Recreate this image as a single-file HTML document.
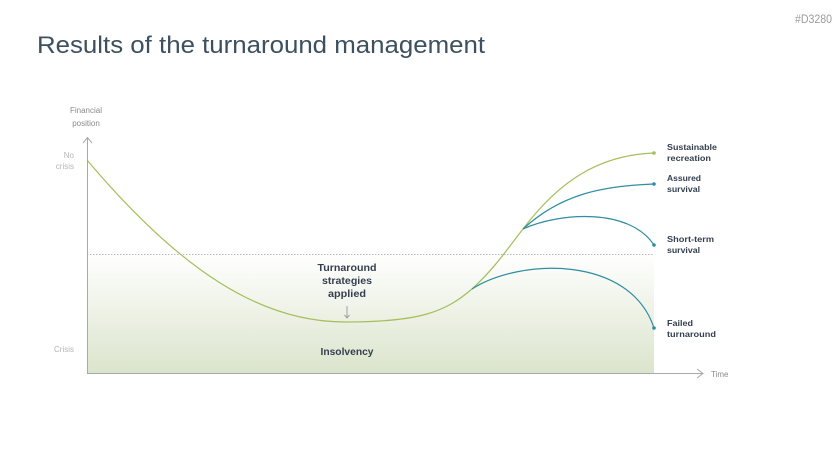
<!DOCTYPE html>
<html><head><meta charset="utf-8"><style>
html,body{margin:0;padding:0;background:#fff;}
svg{display:block;font-family:"Liberation Sans",sans-serif;}
</style></head><body>
<svg width="836" height="470" viewBox="0 0 836 470" xmlns="http://www.w3.org/2000/svg">
<defs>
<linearGradient id="g" x1="0" y1="0" x2="0" y2="1">
<stop offset="0" stop-color="#ffffff"/>
<stop offset="1" stop-color="#dbe4cc"/>
</linearGradient>
</defs>
<text x="795" y="23" font-size="12" fill="#9a9a9a" textLength="37" lengthAdjust="spacingAndGlyphs">#D3280</text>
<text x="37" y="53" font-size="24" fill="#3d5060" textLength="448" lengthAdjust="spacingAndGlyphs">Results of the turnaround management</text>

<rect x="87" y="254" width="567" height="119" fill="url(#g)"/>
<line x1="87" y1="254.5" x2="654" y2="254.5" stroke="#b8b8b8" stroke-width="1" stroke-dasharray="1.5,1.5"/>

<line x1="87.5" y1="138" x2="87.5" y2="373" stroke="#a8a8a8" stroke-width="1"/>
<polyline points="83,143 87.5,137.5 92,143" fill="none" stroke="#a8a8a8"/>
<line x1="87" y1="373.5" x2="703" y2="373.5" stroke="#a8a8a8" stroke-width="1"/>
<polyline points="697,369 703,373.5 697,378" fill="none" stroke="#a8a8a8"/>

<g font-size="8" fill="#8a8a8a">
<text x="86" y="113" text-anchor="middle">Financial</text>
<text x="86" y="126" text-anchor="middle">position</text>
</g>
<g font-size="8" fill="#b5b5b5" text-anchor="end">
<text x="74" y="158">No</text>
<text x="74" y="169">crisis</text>
<text x="74" y="352">Crisis</text>
</g>
<text x="711" y="377" font-size="8" fill="#8a8a8a">Time</text>

<path d="M87,160 C180,270 260,322 345,322 C420,322 445,312 472,289 C495,268 508,248 523,229 C560,180 600,155 654,153" fill="none" stroke="#a3bf5a" stroke-width="1.2"/>
<path d="M523,229 C560,195 600,186 654,184" fill="none" stroke="#2f8ea0" stroke-width="1.2"/>
<path d="M523,229 C560,212 630,208 654,245" fill="none" stroke="#2f8ea0" stroke-width="1.2"/>
<path d="M472,289 C520,258 630,255 654,328" fill="none" stroke="#2f8ea0" stroke-width="1.2"/>
<circle cx="654" cy="153" r="1.8" fill="#a3bf5a"/>
<circle cx="654" cy="184" r="1.8" fill="#2f8ea0"/>
<circle cx="654" cy="245" r="1.8" fill="#2f8ea0"/>
<circle cx="654" cy="328" r="1.8" fill="#2f8ea0"/>

<line x1="347" y1="306" x2="347" y2="318" stroke="#a0a0a0"/>
<polyline points="344.5,315 347,318 349.5,315" fill="none" stroke="#a0a0a0"/>

<g font-size="10" font-weight="bold" fill="#34404f" text-anchor="middle">
<text x="347" y="271" textLength="59" lengthAdjust="spacingAndGlyphs">Turnaround</text>
<text x="347" y="284" textLength="50" lengthAdjust="spacingAndGlyphs">strategies</text>
<text x="347" y="297" textLength="38" lengthAdjust="spacingAndGlyphs">applied</text>
<text x="347" y="355" textLength="53" lengthAdjust="spacingAndGlyphs">Insolvency</text>
</g>
<g font-size="8.5" font-weight="bold" fill="#34404f" lengthAdjust="spacingAndGlyphs">
<text x="667" y="150" textLength="50" lengthAdjust="spacingAndGlyphs">Sustainable</text>
<text x="667" y="161" textLength="44" lengthAdjust="spacingAndGlyphs">recreation</text>
<text x="667" y="181" textLength="34" lengthAdjust="spacingAndGlyphs">Assured</text>
<text x="667" y="192" textLength="33" lengthAdjust="spacingAndGlyphs">survival</text>
<text x="667" y="242" textLength="47" lengthAdjust="spacingAndGlyphs">Short-term</text>
<text x="667" y="253" textLength="33" lengthAdjust="spacingAndGlyphs">survival</text>
<text x="667" y="326" textLength="26" lengthAdjust="spacingAndGlyphs">Failed</text>
<text x="667" y="337" textLength="49" lengthAdjust="spacingAndGlyphs">turnaround</text>
</g>
</svg>
</body></html>
